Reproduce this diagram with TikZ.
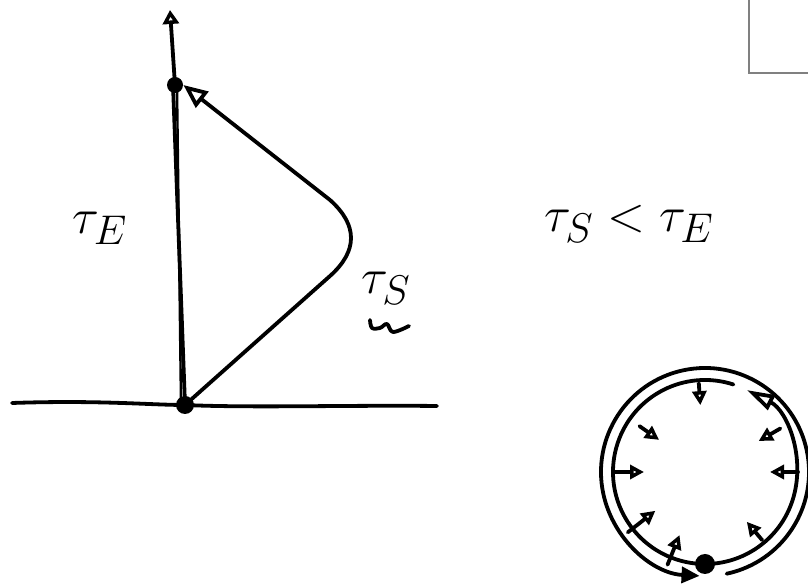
\documentclass[tikz,border=0pt]{standalone}
\usepackage{amsmath}
\usetikzlibrary{arrows.meta,calc}

\tikzset{
  ink/.style={line width=1.9pt, line cap=round, line join=round},
  dot/.style={circle, fill, inner sep=0pt, minimum size=#1},
  label/.style={font=\Huge},
}

\begin{document}
\begin{tikzpicture}[x=0.5pt, y=0.5pt]
    \useasboundingbox (0,0) rectangle (808,588);

    % corner of a frame, top right
    \draw[gray, line width=0.6pt] (749,588) -- (749,515) -- (808,515);

    % axes
    \coordinate (xleft) at (12,185);
    \coordinate (xright) at (437,182);
    \coordinate (ytip) at (170,578);
    \node[dot=9pt] (origin) at (185,183) {};
    \node[dot=8pt] (apex) at (175,503) {};
    \draw[ink] (xleft) .. controls (100,188) and (150,183) .. (origin.center)
        .. controls (250,180) and (350,183) .. (xright);
    \draw[ink, -{Triangle[open, length=7pt, width=8pt]}] (apex.center) -- (ytip);

    % tau_E: straight up, drawn twice
    \draw[ink] (origin.center) -- ([xshift=-1pt]apex.center);
    \draw[ink, line width=1.2pt] ([xshift=-2pt]origin.center) -- ([xshift=1pt]apex.center);

    % tau_S: the bent path
    \draw[ink, -{Triangle[open, length=12pt, width=10pt]}] (origin.center) -- (330,312)
        .. controls (358,337) and (358,363) .. (330,388) -- (apex.east);

    % labels
    \node[label] (tauE) at (100,360) {$\tau_E$};
    \node[label] (tauS) at (386,300) {$\tau_S$};
    \draw[ink] plot[smooth, tension=0.6] coordinates {(370,268) (372,260) (380,260) (387,264) (393,256) (409,262)};
    \node[label] (ineq) at (629,364) {$\tau_S < \tau_E$};

    % loop with inward arrows
    \coordinate (ctr) at (705,116);
    \draw[ink, -{Triangle[open, length=14pt, width=8pt]}] ($(ctr)+(72:92)$) arc[start angle=72, end angle=423, radius=92];
    \draw[ink, -{Triangle[length=9pt, width=8pt]}] ($(ctr)+(-78:104)$) arc[start angle=-78, end angle=267, radius=104];
    \foreach \a/\ro/\ri in {0/93/65, 30/87/62, 94/89/67, 145/80/56, 180/92/61, 218/98/63, 248/100/68, 310/89/65}
        \draw[ink, -{Triangle[open, length=7pt, width=7pt]}] ($(ctr)+(\a:\ro)$) -- ($(ctr)+(\a:\ri)$);
    \node[dot=10pt] (mark) at ($(ctr)+(270:92)$) {};
\end{tikzpicture}
\end{document}
